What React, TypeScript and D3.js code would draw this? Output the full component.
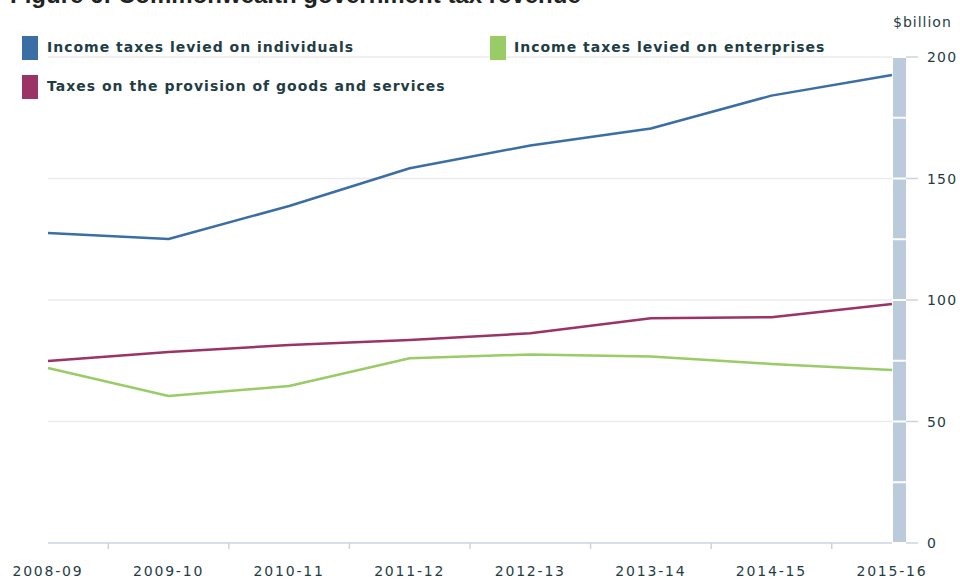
import React from "react";
import * as d3 from "d3";

const categories = ["2008-09", "2009-10", "2010-11", "2011-12", "2012-13", "2013-14", "2014-15", "2015-16"];
const individuals = [127.6, 125.1, 138.7, 154.2, 163.6, 170.6, 184.1, 192.6];
const enterprises = [72.0, 60.5, 64.6, 76.0, 77.6, 76.7, 73.7, 71.2];
const goodsServices = [74.9, 78.6, 81.5, 83.5, 86.3, 92.5, 92.9, 98.4];
const yTicks = [0, 50, 100, 150, 200];
const seriesNames = [
  "Income taxes levied on individuals",
  "Income taxes levied on enterprises",
  "Taxes on the provision of goods and services",
];
const colors = ["#3a6ea5", "#99cc66", "#9b3366"];

export default function App() {
  const W = 960, H = 579;
  const x0 = 48, x1 = 892, yTop = 57, yBot = 543;
  const x = d3.scalePoint<string>().domain(categories).range([x0, x1]);
  const y = d3.scaleLinear().domain([0, 200]).range([yBot, yTop]);
  const line = d3.line<number>().x((_, i) => x(categories[i])!).y((d) => y(d));
  const step = x.step();
  const series = [individuals, enterprises, goodsServices];
  const barSegs = d3.range(0, 200, 25);
  const textColor = "#1f3d45";
  const legendFont = "'DejaVu Sans', Verdana, sans-serif";

  return (
    <svg width={W} height={H} style={{ position: "absolute", left: 0, top: 0, background: "#fff" }}>
      <text x={10} y={3} fontFamily="'Liberation Sans', Arial, sans-serif" fontWeight="bold" fontSize={24} fill="#222">
        Figure 6: Commonwealth government tax revenue
      </text>
      {/* gridlines */}
      {yTicks.filter((t) => t > 0).map((t) => (
        <line key={t} x1={x0} x2={x1} y1={y(t)} y2={y(t)} stroke="#ebebeb" strokeWidth={1.5} />
      ))}
      {/* right bar */}
      {barSegs.map((s) => (
        <rect key={s} x={893} width={13} y={y(s + 25) + 1} height={y(s) - y(s + 25) - 2} fill="#bccbdb" />
      ))}
      {/* right ticks */}
      {yTicks.map((t) => (
        <g key={t}>
          <line x1={906} x2={918} y1={y(t)} y2={y(t)} stroke="#c8d4e3" strokeWidth={1.5} />
          <text x={927} y={y(t) + 5} fontFamily={legendFont} fontSize={14} fill={textColor} letterSpacing={1.2}>
            {t}
          </text>
        </g>
      ))}
      <text x={893} y={27} fontFamily={legendFont} fontSize={14} fill={textColor} letterSpacing={1.0}>
        $billion
      </text>
      {/* x axis */}
      <line x1={x0} x2={x1} y1={yBot} y2={yBot} stroke="#c8d4e3" strokeWidth={1.5} />
      {categories.slice(0, -1).map((c) => (
        <line key={c} x1={x(c)! + step / 2} x2={x(c)! + step / 2} y1={yBot} y2={yBot + 6} stroke="#c8d4e3" strokeWidth={1.5} />
      ))}
      {categories.map((c) => (
        <text key={c} x={x(c)} y={576} textAnchor="middle" fontFamily={legendFont} fontSize={14} fill={textColor} letterSpacing={1.8}>
          {c}
        </text>
      ))}
      {/* lines */}
      {series.map((s, i) => (
        <path key={i} d={line(s)!} fill="none" stroke={colors[i]} strokeWidth={2.5} strokeLinejoin="round" />
      ))}
      {/* legend */}
      {[
        { i: 0, sx: 22, tx: 47, sy: 36 },
        { i: 1, sx: 490, tx: 514, sy: 36 },
        { i: 2, sx: 22, tx: 47, sy: 75 },
      ].map(({ i, sx, tx, sy }) => (
        <g key={i}>
          <rect x={sx} y={sy} width={16} height={24} fill={colors[i]} />
          <text x={tx} y={sy + 16} fontFamily={legendFont} fontWeight="bold" fontSize={14} fill={textColor} letterSpacing={1.0}>
            {seriesNames[i]}
          </text>
        </g>
      ))}
    </svg>
  );
}
